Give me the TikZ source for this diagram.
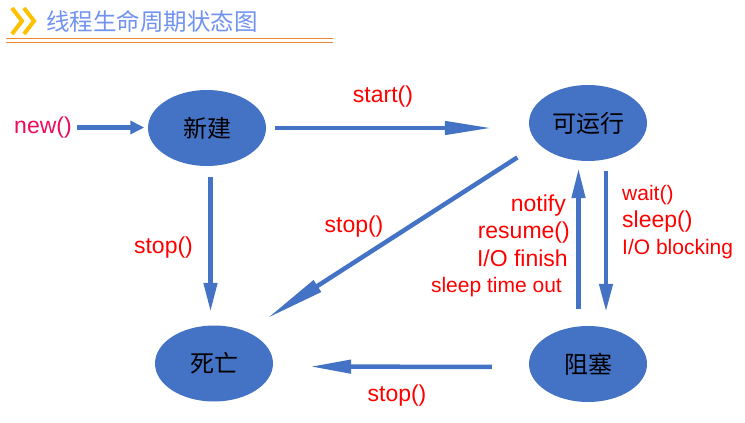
\documentclass[tikz,border=0pt]{standalone}
\usepackage{fontspec}
\setmainfont{Liberation Sans}
\newfontfamily\cjk{Noto Sans CJK SC}
\usetikzlibrary{shapes.geometric,arrows.meta}

\definecolor{stateblue}{RGB}{68,114,196}
\definecolor{callred}{RGB}{255,0,0}
\definecolor{newred}{RGB}{240,10,90}
\definecolor{titleblue}{RGB}{112,146,240}
\definecolor{chevron}{RGB}{255,192,0}
\definecolor{titlerule}{RGB}{240,135,50}

\tikzset{
  state/.style={ellipse, fill=stateblue, minimum width=118pt, minimum height=76pt,
    inner sep=0pt, font=\cjk\fontsize{24}{26}\selectfont},
  call/.style={text=callred, inner sep=0pt, font=\fontsize{23}{25}\selectfont},
  smallcall/.style={call, font=\fontsize{21}{23}\selectfont},
  flow/.style={draw=stateblue, line width=4.5pt, -{Triangle[length=#1,width=13pt]}},
  flow/.default=30pt
}

\begin{document}
\begin{tikzpicture}[x=1pt,y=-1pt]
  \useasboundingbox (0,0) rectangle (745,423);

  % title bar
  \draw[chevron, line width=4pt] (12,8) -- (22,21) -- (12,34) (24,8) -- (34,21) -- (24,34);
  \node[anchor=west, inner sep=0pt, text=titleblue, font=\cjk\fontsize{23.5}{25}\selectfont]
    (title) at (46,21) {线程生命周期状态图};
  \draw[titlerule, line width=1.7pt] (6,38.5) -- (333,38.5) (6,42.5) -- (333,42.5);

  % states
  \node[state] (xinjian) at (207,128) {新建};
  \node[state] (yunxing) at (588,123) {可运行};
  \node[state] (siwang) at (214,363.5) {死亡};
  \node[state] (zusai) at (588,364) {阻塞};

  % labels
  \node[call, text=newred] (newlbl) at (43,127.5) {new()};
  \node[call] (startlbl) at (383,97) {start()};
  \node[call] (stopleft) at (163.5,247.5) {stop()};
  \node[call] (stopdiag) at (354,226.5) {stop()};
  \node[call] (stopbottom) at (397,396) {stop()};
  \node[call, anchor=base east] (notifylbl) at (566,211) {notify};
  \node[call, anchor=base east] (resumelbl) at (570,238) {resume()};
  \node[call, anchor=base east] (iofinlbl) at (568,266) {I/O finish};
  \node[smallcall, anchor=base east] (sleepoutlbl) at (562,292) {sleep time out};
  \node[smallcall, anchor=base west] (waitlbl) at (622,200.5) {wait()};
  \node[call, anchor=base west] (sleeplbl) at (622,227) {sleep()};
  \node[smallcall, anchor=base west] (ioblocklbl) at (622,254) {I/O blocking};

  % transitions
  \draw[flow=14pt, shorten <=5pt, shorten >=3.5pt] (newlbl.east) -- (newlbl.east -| xinjian.west);
  \draw[flow=47pt, shorten <=9pt, shorten >=37pt] (xinjian.east) -- (xinjian.east -| yunxing.west);
  \draw[flow=29pt, shorten <=11pt, shorten >=13.5pt] ([xshift=3.5pt]xinjian.south) -- ([xshift=-3.5pt]siwang.north);
  \draw[flow=60pt, shorten <=84pt, shorten >=63pt] ([yshift=11pt]yunxing.center) -- ([yshift=11pt]siwang.center);
  \draw[flow=41pt, shorten <=37pt, shorten >=37pt] ([yshift=-3pt]zusai.west) -- ([yshift=-3pt]siwang.east);
  \draw[flow=30pt, shorten <=17pt, shorten >=7pt] ([xshift=-9.5pt]zusai.north) -- ([xshift=-9.5pt]yunxing.south);
  \draw[flow=28pt, shorten <=10pt, shorten >=14pt] ([xshift=18pt]yunxing.south) -- ([xshift=18pt]zusai.north);
\end{tikzpicture}
\end{document}
